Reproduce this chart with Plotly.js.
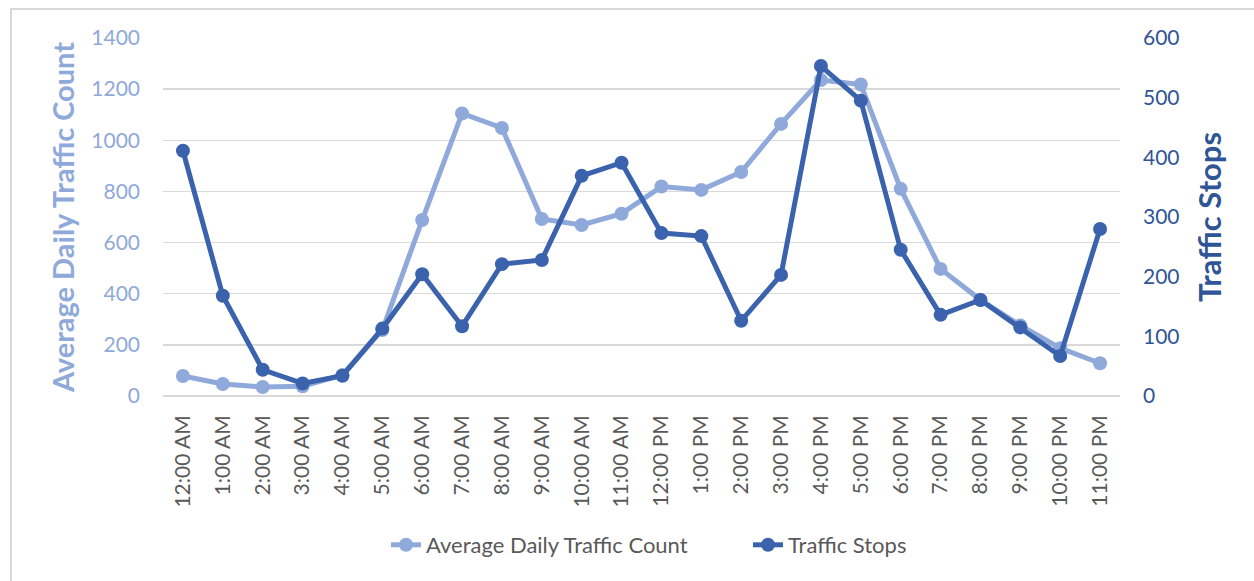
<!DOCTYPE html>
<html>
<head>
<meta charset="utf-8">
<script src="https://cdn.plot.ly/plotly-3.0.1.min.js"></script>
<style>
  html, body { margin: 0; padding: 0; background: #ffffff; }
  #chart { width: 1254px; height: 581px; }
</style>
</head>
<body>
<div id="chart"></div>
<script>
// ---- Data ----
const hours = ["12:00 AM","1:00 AM","2:00 AM","3:00 AM","4:00 AM","5:00 AM","6:00 AM","7:00 AM","8:00 AM","9:00 AM","10:00 AM","11:00 AM",
               "12:00 PM","1:00 PM","2:00 PM","3:00 PM","4:00 PM","5:00 PM","6:00 PM","7:00 PM","8:00 PM","9:00 PM","10:00 PM","11:00 PM"];
const avgDailyTraffic = [78, 47, 35, 38, 82, 258, 688, 1105, 1048, 692, 669, 713, 819, 806, 876, 1064, 1236, 1218, 810, 497, 376, 276, 187, 128];
const trafficStops = [411, 168, 44, 21, 34, 113, 204, 117, 221, 228, 369, 391, 273, 268, 126, 203, 553, 495, 245, 136, 161, 115, 67, 280];
const seriesNames = ["Average Daily Traffic Count", "Traffic Stops"];
const leftTicks = [0, 200, 400, 600, 800, 1000, 1200, 1400];
const rightTicks = [0, 100, 200, 300, 400, 500, 600];

// ---- Style ----
const lightBlue = "#8FA9DA";
const darkBlue = "#3A62AD";
const axisDark = "#2F5597";
const font = "Lato, 'Open Sans', sans-serif";

const traces = [
  {
    x: hours, y: avgDailyTraffic, name: seriesNames[0], type: "scatter", mode: "lines+markers",
    line: { color: lightBlue, width: 5 },
    marker: { color: lightBlue, size: 14 },
    yaxis: "y"
  },
  {
    x: hours, y: trafficStops, name: seriesNames[1], type: "scatter", mode: "lines+markers",
    line: { color: darkBlue, width: 5 },
    marker: { color: darkBlue, size: 14 },
    yaxis: "y2"
  }
];

// plot area: x 163..1120, y 38..396
const L = 163, R = 1120, T = 38, B = 396;
const px = v => (v - L) / (R - L);
const py = v => (B - v) / (B - T);

const layout = {
  width: 1254, height: 581,
  margin: { l: L, r: 1254 - R, t: T, b: 581 - B, pad: 0, autoexpand: false },
  paper_bgcolor: "#ffffff", plot_bgcolor: "#ffffff",
  font: { family: font, color: "#595959" },
  showlegend: true,
  legend: {
    orientation: "h", x: px(386), xanchor: "left", y: py(545), yanchor: "middle",
    font: { family: font, size: 22, color: "#595959" },
    entrywidth: 317, entrywidthmode: "pixels", traceorder: "normal"
  },
  xaxis: {
    type: "category", categoryarray: hours, categoryorder: "array",
    range: [-0.5, hours.length - 0.5], automargin: false,
    showgrid: false, showline: false, zeroline: false, ticks: "",
    tickangle: -90, ticklabelstandoff: 14,
    tickfont: { family: font, size: 21, color: "#595959" }
  },
  yaxis: {
    range: [0, 1400], tickvals: leftTicks, ticktext: leftTicks.map(String), automargin: false,
    showgrid: true, gridcolor: "#D9D9D9", gridwidth: 1.5,
    zeroline: true, zerolinecolor: "#D9D9D9", zerolinewidth: 1.5,
    showline: false, ticks: "", ticklabelstandoff: 22,
    tickfont: { family: font, size: 21, color: lightBlue },
    title: { text: "Average Daily Traffic Count", standoff: 8,
             font: { family: font, size: 29, color: lightBlue, weight: "bold" } }
  },
  yaxis2: {
    range: [0, 600], tickvals: rightTicks, ticktext: rightTicks.map(String), automargin: false,
    overlaying: "y", side: "right",
    showgrid: false, zeroline: false, showline: false, ticks: "", ticklabelstandoff: 22,
    tickfont: { family: font, size: 21, color: axisDark },
    title: { text: "Traffic Stops", standoff: 20,
             font: { family: font, size: 31, color: axisDark, weight: "bold" } }
  },
  shapes: [
    { type: "rect", xref: "paper", yref: "paper",
      x0: px(11), x1: px(1270), y0: py(620), y1: py(9),
      line: { color: "#D9D9D9", width: 2 }, fillcolor: "rgba(0,0,0,0)", layer: "below" }
  ]
};

Plotly.newPlot("chart", traces, layout, { displayModeBar: false, staticPlot: true });
</script>
</body>
</html>
